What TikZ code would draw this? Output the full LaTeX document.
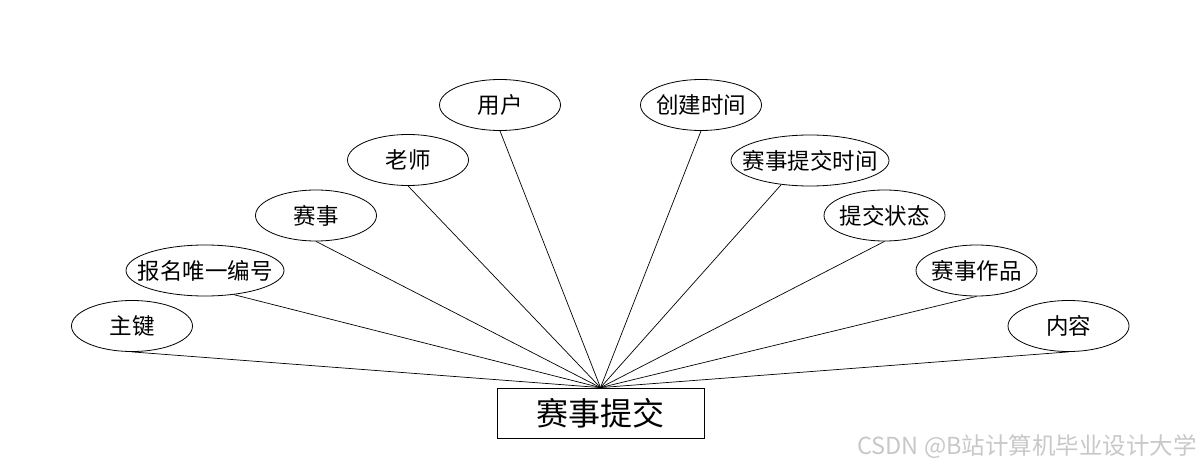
\documentclass[tikz,border=0pt]{standalone}
\usepackage{fontspec}
\setmainfont{Noto Sans CJK SC}
\usetikzlibrary{shapes.geometric}
\definecolor{wmgray}{RGB}{200,200,200}
\newcommand\zw[1]{\makebox[0pt]{#1}}
\begin{document}
\begin{tikzpicture}[x=1pt,y=-1pt,
  attr/.style={draw,ellipse,line width=0.8pt,fill=white,inner sep=0pt,
    minimum width=121pt,minimum height=51pt,font=\fontsize{22.5}{22.5}\selectfont},
  wideattr/.style={attr,minimum width=158pt},
  ent/.style={draw,rectangle,line width=0.8pt,fill=white,inner sep=0pt,
    minimum width=207pt,minimum height=50pt,font=\fontsize{32}{32}\selectfont},
  conn/.style={line width=0.7pt},
  wm/.style={text=wmgray,inner sep=0pt,font=\fontsize{23.5}{23.5}\selectfont}]
\useasboundingbox (0,0) rectangle (1200,468);

\node[ent] (main) at (600.5,413) {赛事提交};

\node[attr] (a1) at (132,326) {\zw{主键}};
\node[wideattr] (a2) at (205,270.5) {\zw{报名唯一编号}};
\node[attr] (a3) at (316,215.5) {\zw{赛事}};
\node[attr] (a4) at (408,160) {\zw{老师}};
\node[attr] (a5) at (500,105) {\zw{用户}};
\node[attr] (b1) at (701,105) {\zw{创建时间}};
\node[wideattr] (b2) at (810,160.5) {\zw{赛事提交时间}};
\node[attr] (b3) at (884.5,215.5) {\zw{提交状态}};
\node[attr] (b4) at (976.5,270.5) {\zw{赛事作品}};
\node[attr] (b5) at (1068.5,326) {\zw{内容}};

\draw[conn] (a1.south) -- (main.north);
\draw[conn] (a2.-40) -- (main.north);
\draw[conn] (a3.south) -- (main.north);
\draw[conn] (a4.south) -- (main.north);
\draw[conn] (a5.south) -- (main.north);
\draw[conn] (b1.south) -- (main.north);
\draw[conn] (b2.-140) -- (main.north);
\draw[conn] (b3.south) -- (main.north);
\draw[conn] (b4.south) -- (main.north);
\draw[conn] (b5.south) -- (main.north);

\node[wm,anchor=east] (wmark) at (1197,447) {CSDN @B站计算机毕业设计大学};
\end{tikzpicture}
\end{document}
